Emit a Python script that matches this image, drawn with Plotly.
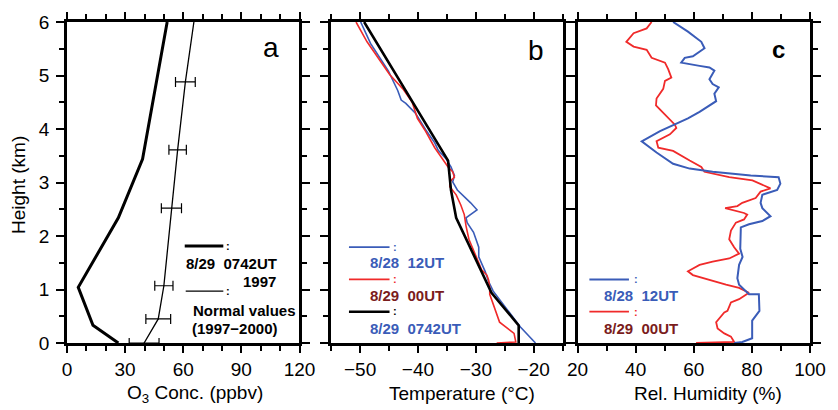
import plotly.graph_objects as go

# ---------------- data ----------------
# Panel a: ozone
o3_obs_h = [0, 0.33, 1.04, 2.34, 3.44, 4.44, 6.0]
o3_obs = [26.5, 13.4, 5.8, 26.5, 39.0, 44.1, 51.7]
o3_norm_h = [0, 0.45, 1.07, 2.52, 3.61, 4.88, 6.0]
o3_norm = [39.8, 47.1, 50.0, 53.9, 57.1, 61.1, 65.5]
err_h = [0, 0.45, 1.07, 2.52, 3.61, 4.88]
err_center = [39.8, 47.1, 50.0, 53.9, 57.1, 61.1]
err_half = [7.7, 6.4, 4.7, 5.2, 4.5, 5.1]

# Panel b: temperature
t_black_h = [0, 0.33, 0.94, 2.34, 2.86, 3.41, 6.0]
t_black = [-22.6, -22.6, -27.3, -33.4, -34.3, -34.8, -49.3]
t_blue_h = [0, 0.30, 0.97, 1.15, 1.34, 1.61, 1.79, 1.88, 2.07, 2.25, 2.34, 2.49, 2.62,
            2.86, 3.01, 3.13, 3.29, 3.45, 3.60, 3.74, 3.99, 4.29, 4.48, 4.54, 4.72,
            5.08, 5.60, 6.0]
t_blue = [-19.7, -22.3, -27.0, -27.8, -28.4, -29.5, -29.5, -29.8, -30.4, -31.5, -31.7,
          -29.8, -30.9, -33.2, -34.0, -33.7, -34.3, -35.2, -36.5, -37.1, -38.7, -40.4,
          -42.1, -42.9, -43.5, -45.1, -48.2, -49.9]
t_red_h = [0, 0.02, 0.18, 0.39, 0.91, 1.03, 1.18, 1.27, 1.37, 1.58, 1.76, 1.94, 2.19,
           2.40, 2.58, 2.77, 2.92, 3.01, 3.10, 3.20, 3.29, 3.47, 3.65, 3.96, 4.20, 4.50,
           4.75, 5.02, 5.36, 5.63, 6.0]
t_red = [-26.4, -23.1, -23.4, -25.9, -27.6, -27.6, -27.8, -28.1, -29.0, -29.8, -30.6,
         -31.2, -31.7, -32.0, -32.6, -33.4, -34.5, -34.5, -33.7, -34.0, -34.8, -35.9,
         -37.1, -38.7, -40.1, -41.0, -42.6, -44.9, -47.1, -48.8, -50.7]

# Panel c: relative humidity
rh_blue_h = [0, 0.02, 0.09, 0.42, 0.60, 0.91, 0.91, 1.00, 1.09, 1.21, 1.46, 1.61, 1.76,
             2.16, 2.22, 2.28, 2.37, 2.52, 2.62, 2.77, 2.86, 2.98, 3.10, 3.13, 3.20,
             3.26, 3.35, 3.56, 3.77, 3.96, 4.11, 4.20, 4.32, 4.46, 4.52, 4.66, 4.78,
             4.84, 4.93, 5.09, 5.15, 5.18, 5.24, 5.33, 5.36, 5.51, 5.63, 5.82, 6.0]
rh_blue = [73.9, 76.7, 80.1, 80.1, 82.6, 82.4, 79.0, 77.3, 75.6, 75.0, 75.6, 76.8, 76.0,
           76.2, 79.0, 83.6, 86.4, 83.6, 83.0, 83.6, 88.7, 89.8, 89.2, 79.6, 66.5,
           58.6, 52.9, 47.2, 42.1, 48.4, 54.6, 58.0, 62.0, 66.0, 67.7, 67.1, 68.6,
           66.5, 65.4, 67.1, 65.4, 62.0, 55.7, 56.9, 59.7, 63.7, 62.6, 58.0, 52.9]
rh_red_h = [0, 0.02, 0.12, 0.18, 0.27, 0.39, 0.57, 0.60, 0.76, 0.82, 0.94, 1.03, 1.09,
            1.18, 1.27, 1.34, 1.46, 1.52, 1.58, 1.67, 1.79, 1.94, 2.10, 2.25, 2.31,
            2.40, 2.43, 2.52, 2.56, 2.62, 2.71, 2.83, 2.89, 3.04, 3.10, 3.20, 3.29,
            3.41, 3.59, 3.65, 3.77, 3.90, 4.02, 4.08, 4.29, 4.44, 4.57, 4.75, 4.90,
            4.96, 5.12, 5.24, 5.33, 5.48, 5.54, 5.63, 5.79, 5.88, 6.0]
rh_red = [60.8, 73.9, 72.8, 70.5, 68.2, 67.7, 70.5, 71.6, 72.8, 75.6, 79.0, 75.6, 71.1,
          65.4, 59.7, 58.0, 62.0, 66.5, 72.2, 75.6, 73.9, 72.2, 72.8, 74.5, 77.3,
          78.4, 77.3, 70.8, 75.0, 76.7, 81.3, 83.0, 86.4, 80.2, 72.2, 63.7, 62.6,
          58.6, 52.9, 47.8, 47.2, 51.8, 54.0, 53.5, 49.5, 47.0, 47.2, 49.5, 50.1,
          52.3, 51.2, 50.1, 45.5, 43.8, 39.3, 36.8, 39.3, 43.8, 45.5]

x_ranges = [[0, 120], [-55, -15], [20, 100]]
x_ticks = [[0, 30, 60, 90, 120], [-50, -40, -30, -20], [20, 40, 60, 80, 100]]
x_tick_text = [["0", "30", "60", "90", "120"], ["\u221250", "\u221240", "\u221230", "\u221220"],
               ["20", "40", "60", "80", "100"]]
x_minor = [10, 5, 10]
y_ticks = [0, 1, 2, 3, 4, 5, 6]
x_titles = ["O<sub>3</sub> Conc. (ppbv)", "Temperature (\u00b0C)", "Rel. Humidity (%)"]
panel_letters = ["a", "b", "c"]

BLUE = "#3a5cb8"
RED = "#f02a2a"
DARKRED = "#7a1c1c"
FONT = "Liberation Sans, Arial, sans-serif"

# ---------------- geometry ----------------
W, H = 838, 410
ML, MR, MT, MB = 67, 20, 15, 67
PW, PH = W - ML - MR, H - MT - MB


def xp(px):
    return (px - ML) / PW


def yp(py):
    return (MT + PH - py) / PH


domains = [[xp(67), xp(302)], [xp(334), xp(568)], [xp(583), xp(818)]]

fig = go.Figure()

# Panel a
fig.add_trace(go.Scatter(x=o3_obs, y=o3_obs_h, mode="lines",
                         line=dict(color="black", width=3), xaxis="x", yaxis="y",
                         showlegend=False))
fig.add_trace(go.Scatter(x=o3_norm, y=o3_norm_h, mode="lines",
                         line=dict(color="black", width=1.3), xaxis="x", yaxis="y",
                         showlegend=False))
fig.add_trace(go.Scatter(x=err_center, y=err_h, mode="markers",
                         marker=dict(size=1, color="black"),
                         error_x=dict(type="data", array=err_half, color="black",
                                      thickness=1.2, width=5),
                         xaxis="x", yaxis="y", showlegend=False))

# Panel b
fig.add_trace(go.Scatter(x=t_blue, y=t_blue_h, mode="lines",
                         line=dict(color=BLUE, width=1.6), xaxis="x2", yaxis="y2",
                         showlegend=False))
fig.add_trace(go.Scatter(x=t_red, y=t_red_h, mode="lines",
                         line=dict(color=RED, width=1.6), xaxis="x2", yaxis="y2",
                         showlegend=False))
fig.add_trace(go.Scatter(x=t_black, y=t_black_h, mode="lines",
                         line=dict(color="black", width=2.6), xaxis="x2", yaxis="y2",
                         showlegend=False))

# Panel c
fig.add_trace(go.Scatter(x=rh_red, y=rh_red_h, mode="lines",
                         line=dict(color=RED, width=1.8), xaxis="x3", yaxis="y3",
                         showlegend=False))
fig.add_trace(go.Scatter(x=rh_blue, y=rh_blue_h, mode="lines",
                         line=dict(color=BLUE, width=2.0), xaxis="x3", yaxis="y3",
                         showlegend=False))

axis_common = dict(showline=True, linewidth=2.5, linecolor="black", mirror="allticks",
                   ticks="outside", tickwidth=2, tickcolor="black", showgrid=False,
                   zeroline=False, tickfont=dict(family=FONT, size=19, color="black"))

layout = dict(width=W, height=H, margin=dict(l=ML, r=MR, t=MT, b=MB),
              paper_bgcolor="white", plot_bgcolor="white", showlegend=False,
              font=dict(family=FONT, color="black"))

for i in range(3):
    sx = "" if i == 0 else str(i + 1)
    layout["xaxis" + sx] = dict(
        axis_common, domain=domains[i], range=x_ranges[i], anchor="y" + sx,
        tickvals=x_ticks[i], ticktext=x_tick_text[i], ticklen=7, ticklabelstandoff=0,
        minor=dict(dtick=x_minor[i], tick0=x_ranges[i][0], ticklen=5, ticks="outside",
                   tickwidth=1.6, tickcolor="black", showgrid=False))
    layout["yaxis" + sx] = dict(
        axis_common, domain=[0, 1], range=[0, 6], anchor="x" + sx,
        tickvals=y_ticks, ticklen=8, showticklabels=(i == 0), ticklabelstandoff=3,
        minor=dict(dtick=0.5, tick0=0, ticklen=5, ticks="outside", tickwidth=1.6,
                   tickcolor="black", showgrid=False))

annotations = []
shapes = []

# axis titles
title_centers = [196, 466, 715]
for i in range(3):
    annotations.append(dict(text=x_titles[i], x=xp(title_centers[i]), y=yp(395),
                            xref="paper", yref="paper", showarrow=False,
                            xanchor="center", yanchor="middle",
                            font=dict(family=FONT, size=19, color="black")))
annotations.append(dict(text="Height (km)", x=xp(18), y=yp(182), xref="paper",
                        yref="paper", showarrow=False, textangle=-90,
                        xanchor="center", yanchor="middle",
                        font=dict(family=FONT, size=19, color="black")))

# panel letters
letter_pos = [(273, 41, 28, False), (541, 44, 28, False), (786, 43, 24, True)]
for i, (lx, ly, ls, bold) in enumerate(letter_pos):
    txt = "<b>%s</b>" % panel_letters[i] if bold else panel_letters[i]
    annotations.append(dict(text=txt, x=xp(lx), y=yp(ly), xref="paper", yref="paper",
                            showarrow=False, xanchor="center", yanchor="middle",
                            font=dict(family=FONT, size=ls, color="black")))


def leg_line(x0, x1, y, color, width):
    shapes.append(dict(type="line", xref="paper", yref="paper", x0=xp(x0), x1=xp(x1),
                       y0=yp(y), y1=yp(y), line=dict(color=color, width=width)))


def leg_text(text, x, y, color, size=15, anchor="left"):
    annotations.append(dict(text="<b>%s</b>" % text, x=xp(x), y=yp(y), xref="paper",
                            yref="paper", showarrow=False, xanchor=anchor,
                            yanchor="middle",
                            font=dict(family=FONT, size=size, color=color)))


def leg_colon(x, y, color):
    leg_text(":", x, y, color, size=11, anchor="center")


# legend panel a
leg_line(186, 225, 244, "black", 3)
leg_colon(230, 244, "black")
leg_text("8/29&nbsp;&nbsp;0742UT", 185, 262, "black")
leg_text("1997", 280, 280, "black", anchor="right")
leg_line(187, 225, 290, "black", 1.3)
leg_colon(230, 290, "black")
leg_text("Normal values", 192, 310, "black")
leg_text("(1997\u22122000)", 191, 328, "black")

# legend panel b
leg_line(352, 393, 245, BLUE, 1.6)
leg_colon(399, 245, BLUE)
leg_text("8/28&nbsp;&nbsp;12UT", 371, 261, BLUE)
leg_line(352, 393, 278, RED, 1.6)
leg_colon(399, 278, RED)
leg_text("8/29&nbsp;&nbsp;00UT", 371, 294, DARKRED)
leg_line(352, 393, 311, "black", 2.6)
leg_colon(399, 310, "black")
leg_text("8/29&nbsp;&nbsp;0742UT", 371, 328, BLUE)

# legend panel c
leg_line(595, 635, 278, BLUE, 2.0)
leg_colon(642, 278, BLUE)
leg_text("8/28&nbsp;&nbsp;12UT", 608, 294, BLUE)
leg_line(595, 635, 311, RED, 1.8)
leg_colon(642, 311, RED)
leg_text("8/29&nbsp;&nbsp;00UT", 608, 328, DARKRED)

layout["annotations"] = annotations
layout["shapes"] = shapes
fig.update_layout(**layout)

fig.write_html("out.html")
